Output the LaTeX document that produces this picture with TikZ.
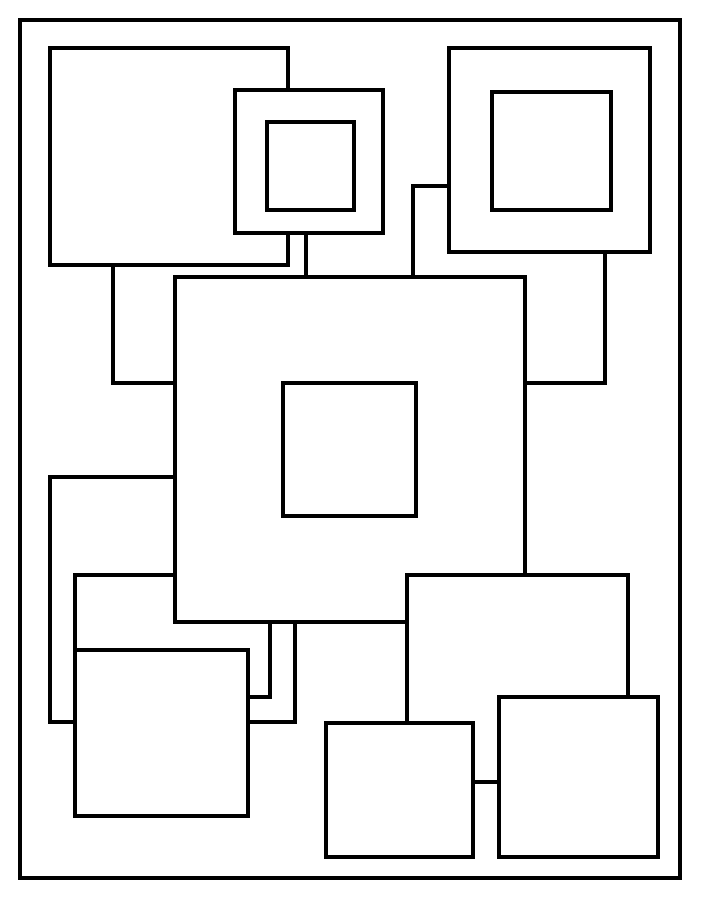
\documentclass[tikz,border=0pt]{standalone}
\usepackage{tikz}

\begin{document}
\begin{tikzpicture}[x=0.025cm,y=-0.025cm,
        line width=0.11cm,
        box/.style={rectangle,draw,fill=white,inner sep=0pt,outer sep=0pt,anchor=north west}]

        \useasboundingbox (0,0) rectangle (700,900);
        \node[box,minimum width=16.5cm,minimum height=21.45cm] (frame) at (20,20) {};

        % bend points of the links
        \coordinate (b1) at (113,383);
        \coordinate (b2) at (306,250);
        \coordinate (b3) at (413,186);
        \coordinate (b4) at (605,383);

        \node[box,minimum width=5.95cm,minimum height=5.425cm] (tl) at (50,48) {};
        \node[box,minimum width=3.7cm,minimum height=3.575cm] (sq) at (235,90) {};
        \node[box,minimum width=2.175cm,minimum height=2.2cm] (sqin) at (267,122) {};
        \node[box,minimum width=5.025cm,minimum height=5.1cm] (tr) at (449,48) {};
        \node[box,minimum width=2.975cm,minimum height=2.95cm] (trin) at (492,92) {};

        \node[box,minimum width=6.125cm,minimum height=6.125cm] (back1) at (50,477) {};
        \node[box,minimum width=4.875cm,minimum height=3.05cm] (back2) at (75,575) {};
        \node[box,minimum width=8.75cm,minimum height=8.625cm] (mid) at (175,277) {};
        \node[box,minimum width=3.325cm,minimum height=3.325cm] (midin) at (283,383) {};
        \node[box,minimum width=4.325cm,minimum height=4.15cm] (lowl) at (75,650) {};
        \node[box,minimum width=5.525cm,minimum height=5.175cm] (lowr) at (407,575) {};
        \node[box,minimum width=3.675cm,minimum height=3.35cm] (bl) at (326,723) {};
        \node[box,minimum width=3.975cm,minimum height=4cm] (br) at (499,697) {};

        \draw (tl.south -| b1) |- (mid.west |- b1);
        \draw (sq.south -| b2) -- (mid.north -| b2);
        \draw (tr.west |- b3) -| (mid.north -| b3);
        \draw (tr.south -| b4) |- (mid.east |- b4);
\end{tikzpicture}
\end{document}
